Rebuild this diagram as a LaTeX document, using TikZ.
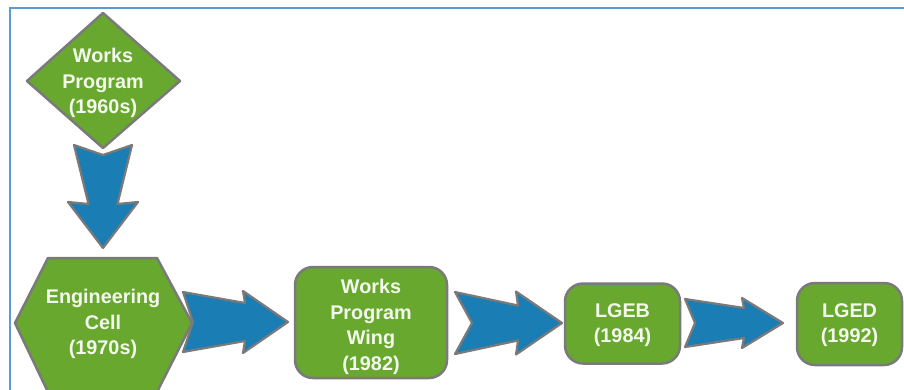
\documentclass[tikz,border=0pt]{standalone}
\usepackage{fontspec}
\setmainfont{Liberation Sans}
\definecolor{gfill}{RGB}{104,168,46}
\definecolor{bfill}{RGB}{26,125,180}
\definecolor{edge}{RGB}{122,122,122}
\definecolor{frame}{RGB}{91,155,213}
\definecolor{txt}{RGB}{244,249,238}
\tikzset{
  greenshape/.style={fill=gfill,draw=edge,line width=2.5pt,line join=round},
  bluearrow/.style={fill=bfill,draw=edge,line width=2.2pt,line join=round},
  lbl/.style={align=center,text=txt,font=\fontsize{19.8}{25.5}\selectfont\bfseries,inner sep=0pt},
  rbox/.style={greenshape,rounded corners=18pt,inner sep=0pt},
  pics/barrow/.style n args={5}{code={
    \path[bluearrow] (0,-#1) -- (#3+2,-#4) -- (#3,-#5) -- (\arrtip,0) -- (#3,#5) -- (#3+2,#4) -- (0,#1) -- (#2,0) -- cycle;
  }}
}
\begin{document}
\begin{tikzpicture}[x=1pt,y=-1pt]
\useasboundingbox (0,0) rectangle (904,389);
\fill[white] (0,0) rectangle (904,389);
% frame
\draw[frame,line width=2.5pt] (10,400) -- (10,8) -- (910,8);
% diamond
\path[greenshape] (103,13) -- (180,81) -- (103,148) -- (27,81) -- cycle;
\node[lbl] (wp) at (103,83) {Works\\Program\\(1960s)};
% hexagon
\path[greenshape] (15,323) -- (48,258) -- (157,258) -- (192,323) -- (157,392) -- (48,392) -- cycle;
\node[lbl] (ec) at (103,324) {Engineering\\Cell\\(1970s)};
% boxes
\node[rbox,minimum width=152pt,minimum height=111pt] (wpwbox) at (371,322.5) {};
\node[lbl] (wpw) at (371,327) {Works\\Program\\Wing\\(1982)};
\node[rbox,minimum width=115pt,minimum height=80pt] (lgebbox) at (622.5,323.5) {};
\node[lbl] (lgeb) at (622.5,325) {LGEB\\(1984)};
\node[rbox,minimum width=105pt,minimum height=82pt] (lgedbox) at (849.5,324) {};
\node[lbl] (lged) at (849.5,325) {LGED\\(1992)};
% arrows
\def\arrtip{103}
\pic[rotate=-90] at (103,145) {barrow={29}{10}{57}{14.5}{35}};
\def\arrtip{105}
\pic at (183,322) {barrow={30}{10}{60}{19}{31}};
\def\arrtip{107}
\pic at (455,323) {barrow={31}{17}{61}{17.5}{31.5}};
\def\arrtip{98}
\pic at (685,323) {barrow={24}{10}{57}{15}{25}};
\end{tikzpicture}
\end{document}
